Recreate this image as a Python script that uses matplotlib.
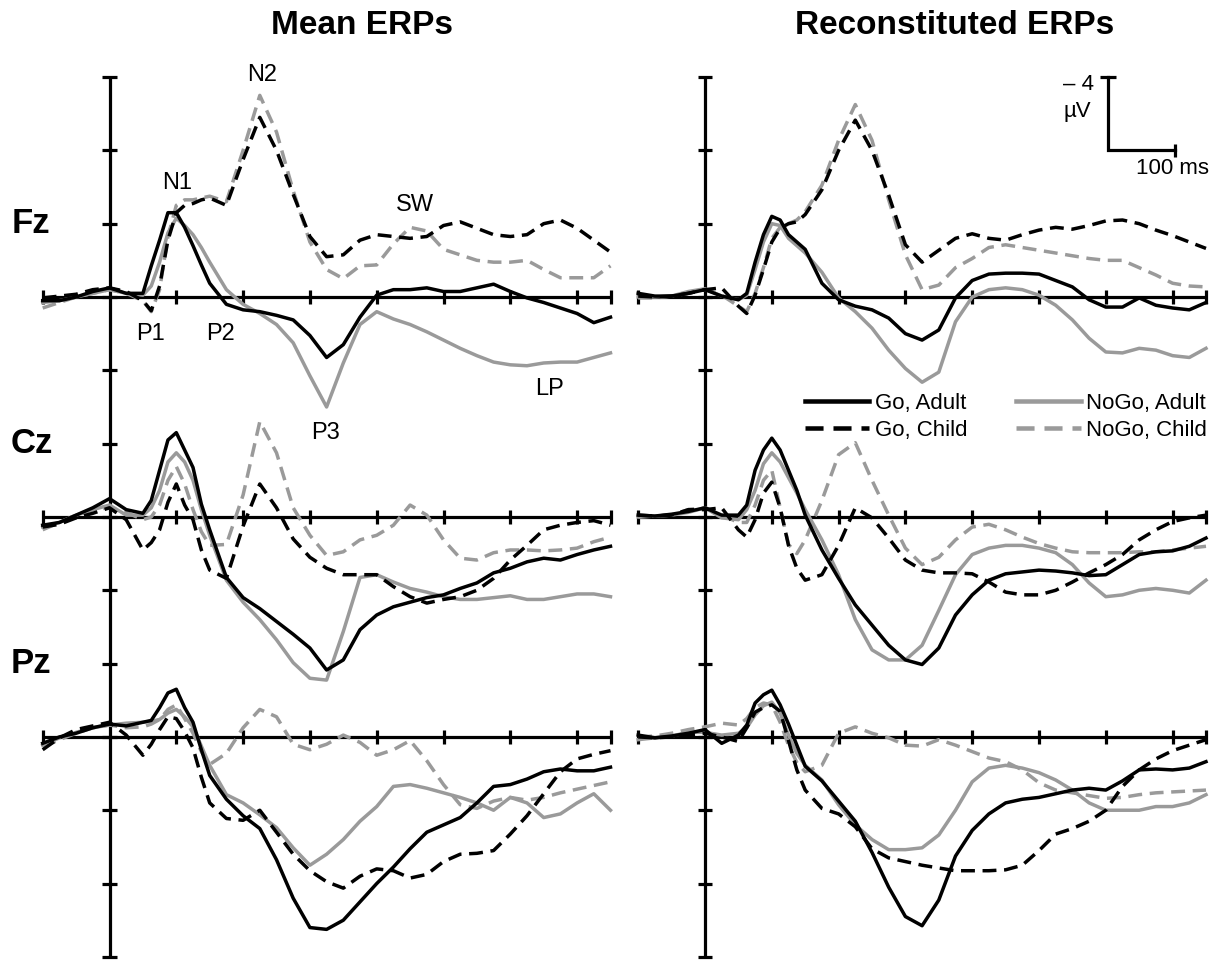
import numpy as np
import matplotlib
matplotlib.use("Agg")
import matplotlib.pyplot as plt
from matplotlib.lines import Line2D

plt.rcParams['font.family'] = ['Liberation Sans Narrow', 'Liberation Sans', 'DejaVu Sans']

# sample times (ms after stimulus onset), denser around N1
times = [-100, -75, -50, -25, 0, 25, 50, 62.5, 75, 87.5, 100, 112.5, 125, 137.5, 150,
         175, 200, 225, 250, 275, 300, 325, 350, 375, 400, 425, 450, 475, 500, 525,
         550, 575, 600, 625, 650, 675, 700, 725, 750]

# ---- Mean ERPs (microvolts) ----
mean_fz_go_adult = [0.2, 0.2, 0.0, -0.3, -0.5, -0.2, -0.2,
                    -1.7, -3.1, -4.6, -4.6, -3.8, -2.8, -1.75, -0.75,
                    0.4, 0.7, 0.8, 1.0, 1.25, 2.1, 3.3, 2.6, 1.1, -0.1, -0.4, -0.4, -0.5, -0.3,
                    -0.3, -0.5, -0.7, -0.3, 0.05, 0.3, 0.6, 0.9, 1.4, 1.1]
mean_fz_nogo_adult = [0.3, 0.2, 0.0, -0.2, -0.4, -0.2, -0.1,
                      -0.6, -1.9, -3.5, -4.3, -3.9, -3.4, -2.7, -1.9,
                      -0.4, 0.4, 0.9, 1.5, 2.5, 4.3, 6.0, 3.6, 1.5, 0.8, 1.2, 1.5, 1.9, 2.35,
                      2.8, 3.2, 3.55, 3.7, 3.75, 3.6, 3.55, 3.55, 3.3, 3.05]
mean_fz_go_child = [0.05, -0.05, -0.15, -0.4, -0.5, -0.3, 0.2,
                    0.75, -0.6, -3.1, -4.6, -5.0, -5.1, -5.3, -5.4,
                    -5.0, -7.5, -9.8, -8.0, -5.6, -3.3, -2.2, -2.3, -3.1, -3.4, -3.3, -3.2, -3.3, -3.9,
                    -4.1, -3.75, -3.4, -3.3, -3.4, -4.0, -4.2, -3.75, -3.1, -2.45]
mean_fz_nogo_child = [0.6, 0.3, 0.0, -0.2, -0.4, -0.2, 0.2,
                      0.8, -0.4, -3.3, -5.0, -5.3, -5.3, -5.4, -5.5,
                      -5.2, -8.0, -11.0, -9.0, -5.8, -3.0, -1.5, -1.0, -1.7, -1.75, -2.9, -3.8, -3.6, -2.6,
                      -2.3, -2.0, -1.9, -1.9, -2.0, -1.5, -1.05, -1.05, -1.05, -1.7]

mean_cz_go_adult = [0.45, 0.3, -0.1, -0.5, -1.0, -0.4, -0.2,
                    -0.9, -2.55, -4.2, -4.6, -3.65, -2.7, -0.7, 0.7,
                    3.3, 4.4, 5.0, 5.7, 6.4, 7.15, 8.35, 7.8, 6.15, 5.35, 4.9, 4.65, 4.4, 4.25,
                    3.9, 3.6, 3.05, 2.8, 2.45, 2.25, 2.35, 2.05, 1.8, 1.6]
mean_cz_nogo_adult = [0.55, 0.3, -0.1, -0.4, -0.65, -0.1, -0.1,
                      -0.5, -1.45, -3.0, -3.5, -3.0, -2.0, -0.4, 1.0,
                      3.45, 4.65, 5.6, 6.7, 7.95, 8.8, 8.9, 6.25, 3.3, 3.15, 3.55, 3.9, 4.1, 4.35,
                      4.5, 4.5, 4.4, 4.3, 4.5, 4.5, 4.35, 4.2, 4.2, 4.35]
mean_cz_go_child = [0.55, 0.4, 0.05, -0.2, -0.5, 0.15, 1.8,
                    1.4, 0.7, -0.8, -1.8, -0.65, 0.15, 1.8, 2.9,
                    3.35, 0.5, -1.8, -0.5, 1.2, 2.2, 2.8, 3.15, 3.15, 3.15, 3.8, 4.35, 4.7, 4.5,
                    4.35, 4.0, 3.35, 2.35, 1.55, 0.7, 0.45, 0.3, 0.2, 0.45]
mean_cz_nogo_child = [0.7, 0.3, -0.1, -0.4, -0.5, -0.25, 0.15,
                      0.0, -0.65, -2.0, -2.75, -1.8, -0.4, 0.8, 1.55,
                      1.5, -1.2, -5.2, -3.5, -0.5, 1.0, 2.1, 1.9, 1.25, 1.0, 0.45, -0.65, -0.1, 1.25,
                      2.25, 2.35, 1.95, 1.8, 1.8, 1.85, 1.8, 1.7, 1.35, 1.1]

mean_pz_go_adult = [0.35, 0.0, -0.2, -0.5, -0.7, -0.6, -0.8,
                    -0.9, -1.6, -2.4, -2.6, -1.6, -0.8, 0.7, 2.1,
                    3.4, 4.3, 5.0, 6.7, 8.8, 10.4, 10.5, 10.0, 9.0, 8.0, 7.1, 6.1, 5.2, 4.8,
                    4.4, 3.6, 2.7, 2.6, 2.3, 1.9, 1.75, 1.85, 1.85, 1.65]
mean_pz_nogo_adult = [0.45, 0.05, -0.25, -0.5, -0.65, -0.75, -0.8,
                      -0.85, -0.95, -1.3, -1.5, -1.1, -0.55, 0.5, 1.55,
                      3.15, 3.6, 4.25, 4.95, 6.05, 7.0, 6.4, 5.6, 4.6, 3.8, 2.7, 2.6, 2.8, 3.05,
                      3.3, 3.6, 4.0, 3.3, 3.6, 4.4, 4.2, 3.6, 3.1, 4.0]
mean_pz_go_child = [0.7, 0.05, -0.4, -0.6, -0.8, -0.1, 1.0,
                    0.4, -0.4, -1.1, -1.0, -0.3, 0.6, 2.2, 3.6,
                    4.45, 4.55, 4.0, 5.2, 6.4, 7.3, 7.9, 8.25, 7.6, 7.2, 7.3, 7.7, 7.5, 6.8,
                    6.4, 6.35, 6.2, 5.3, 4.3, 3.1, 1.9, 1.2, 0.95, 0.75]
mean_pz_nogo_child = [0.55, 0.15, -0.2, -0.5, -0.65, -0.5, -0.55,
                      -0.7, -0.95, -1.5, -1.75, -1.0, -0.2, 0.8, 1.5,
                      0.9, -0.5, -1.5, -1.1, 0.4, 0.7, 0.4, -0.1, 0.3, 1.0, 0.7, 0.2, 1.3, 2.6,
                      3.7, 3.9, 3.5, 3.3, 3.45, 3.3, 3.05, 2.85, 2.65, 2.45]

# ---- Reconstituted ERPs (microvolts) ----
recon_fz_go_adult = [-0.2, -0.05, -0.05, -0.2, -0.4, -0.05, 0.15,
                     -0.2, -1.9, -3.4, -4.4, -4.2, -3.4, -3.0, -2.6,
                     -0.75, 0.15, 0.5, 0.7, 1.15, 2.0, 2.35, 1.8, 0.05, -0.9, -1.25, -1.3, -1.3, -1.25,
                     -0.9, -0.55, 0.15, 0.55, 0.55, 0.05, 0.45, 0.6, 0.7, 0.3]
recon_fz_nogo_adult = [0.0, 0.0, -0.05, -0.3, -0.45, -0.05, 0.15,
                       -0.1, -1.5, -3.0, -4.0, -3.9, -3.2, -2.8, -2.4,
                       -1.35, 0.05, 0.8, 1.7, 2.9, 3.9, 4.65, 4.1, 1.35, 0.0, -0.4, -0.5, -0.4, -0.1,
                       0.45, 1.25, 2.25, 3.0, 3.05, 2.8, 2.9, 3.2, 3.3, 2.8]
recon_fz_go_child = [-0.05, 0.0, -0.05, -0.2, -0.4, -0.5, 0.5,
                     0.9, -0.1, -1.5, -3.0, -3.75, -4.0, -4.1, -4.5,
                     -5.85, -8.0, -9.65, -8.0, -5.55, -2.85, -1.9, -2.55, -3.2, -3.45, -3.2, -3.1, -3.4, -3.65,
                     -3.8, -3.7, -3.9, -4.15, -4.2, -4.0, -3.65, -3.35, -3.0, -2.65]
recon_fz_nogo_child = [0.05, 0.05, -0.05, -0.2, -0.4, -0.1, 0.5,
                       0.8, -0.2, -1.6, -3.2, -3.8, -4.0, -4.2, -4.65,
                       -6.1, -8.55, -10.5, -8.55, -5.3, -2.3, -0.4, -0.65, -1.6, -2.1, -2.7, -2.85, -2.7, -2.55,
                       -2.4, -2.25, -2.1, -2.0, -2.0, -1.6, -1.2, -0.75, -0.6, -0.55]

recon_cz_go_adult = [-0.1, -0.05, -0.15, -0.3, -0.5, -0.1, -0.1,
                     -0.65, -2.55, -3.65, -4.3, -3.65, -2.55, -1.45, -0.1,
                     1.8, 3.35, 4.8, 5.9, 7.0, 7.8, 8.05, 7.15, 5.35, 4.25, 3.45, 3.1, 3.0, 2.9,
                     2.95, 3.05, 3.2, 3.15, 2.6, 2.05, 1.9, 1.85, 1.6, 1.15]
recon_cz_nogo_adult = [0.0, -0.05, -0.1, -0.25, -0.5, 0.05, 0.15,
                       -0.4, -1.45, -2.9, -3.5, -3.0, -2.15, -1.3, -0.4,
                       1.25, 3.15, 5.6, 7.25, 7.8, 7.8, 7.0, 5.1, 3.15, 2.05, 1.7, 1.55, 1.55, 1.7,
                       1.95, 2.6, 3.6, 4.35, 4.25, 4.0, 3.9, 4.0, 4.15, 3.45]
recon_cz_go_child = [-0.1, -0.05, -0.1, -0.4, -0.4, -0.5, 0.7,
                     1.1, 0.15, -1.3, -1.9, -0.5, 1.55, 2.8, 3.45,
                     3.15, 1.55, -0.5, 0.05, 1.15, 2.35, 2.9, 3.05, 3.05, 3.1, 3.55, 4.1, 4.25, 4.25,
                     4.0, 3.55, 3.05, 2.6, 2.05, 1.25, 0.7, 0.25, 0.05, -0.1]
recon_cz_nogo_child = [0.0, -0.05, -0.1, -0.4, -0.5, -0.1, 0.3,
                       0.3, -0.65, -2.0, -2.55, -0.5, 1.5, 2.0, 1.25,
                       -0.9, -3.4, -4.05, -2.0, -0.1, 1.7, 2.6, 2.2, 1.25, 0.55, 0.4, 0.7, 1.1, 1.45,
                       1.7, 1.9, 1.95, 1.95, 1.95, 1.9, 1.9, 1.8, 1.7, 1.6]

recon_pz_go_adult = [-0.1, 0.05, -0.05, -0.2, -0.4, 0.35, -0.1,
                     -0.65, -1.85, -2.3, -2.55, -1.75, -0.7, 0.45, 1.6,
                     2.4, 3.5, 4.6, 6.3, 8.2, 9.8, 10.3, 8.9, 6.5, 5.1, 4.2, 3.6, 3.4, 3.3,
                     3.1, 2.9, 2.8, 2.9, 2.4, 1.8, 1.75, 1.8, 1.7, 1.35]
recon_pz_nogo_adult = [0.15, 0.05, -0.05, -0.25, -0.25, -0.1, -0.2,
                       -0.5, -1.2, -1.7, -1.9, -1.3, -0.1, 0.9, 1.55,
                       2.35, 3.7, 4.8, 5.6, 6.15, 6.15, 6.05, 5.35, 4.0, 2.45, 1.7, 1.55, 1.7, 1.95,
                       2.35, 2.9, 3.6, 4.0, 4.0, 4.0, 3.8, 3.8, 3.6, 3.15]
recon_pz_go_child = [0.0, 0.05, 0.0, -0.1, -0.2, 0.0, 0.25,
                     -0.5, -1.35, -1.6, -1.75, -1.4, 0.2, 1.8, 2.9,
                     3.9, 4.2, 4.9, 6.1, 6.6, 6.8, 7.0, 7.15, 7.3, 7.3, 7.3, 7.25, 7.0, 6.2,
                     5.3, 5.0, 4.6, 4.0, 2.7, 1.8, 1.2, 0.75, 0.45, 0.15]
recon_pz_nogo_child = [0.0, -0.05, -0.2, -0.4, -0.55, -0.75, -0.65,
                       -1.0, -1.6, -1.85, -1.75, -0.8, 0.45, 1.4, 1.9,
                       1.55, -0.2, -0.55, -0.2, 0.05, 0.45, 0.5, 0.15, 0.45, 0.8, 1.15, 1.35, 1.8, 2.5,
                       2.9, 3.05, 3.2, 3.35, 3.3, 3.15, 3.05, 3.0, 2.95, 2.9]

electrodes = ['Fz', 'Cz', 'Pz']
conditions = ['Go, Adult', 'Go, Child', 'NoGo, Adult', 'NoGo, Child']

mean_erps = {
    'Fz': [mean_fz_go_adult, mean_fz_go_child, mean_fz_nogo_adult, mean_fz_nogo_child],
    'Cz': [mean_cz_go_adult, mean_cz_go_child, mean_cz_nogo_adult, mean_cz_nogo_child],
    'Pz': [mean_pz_go_adult, mean_pz_go_child, mean_pz_nogo_adult, mean_pz_nogo_child],
}
recon_erps = {
    'Fz': [recon_fz_go_adult, recon_fz_go_child, recon_fz_nogo_adult, recon_fz_nogo_child],
    'Cz': [recon_cz_go_adult, recon_cz_go_child, recon_cz_nogo_adult, recon_cz_nogo_child],
    'Pz': [recon_pz_go_adult, recon_pz_go_child, recon_pz_nogo_adult, recon_pz_nogo_child],
}

# component labels: (text, time ms, microvolts relative to Fz baseline)
components = [('N1', 101, -6.2), ('N2', 228, -12.1), ('SW', 457, -5.0), ('P1', 62, 2.0),
              ('P2', 166, 2.0), ('P3', 324, 7.4), ('LP', 659, 5.0)]

GREY = '#9a9a9a'
styles = {
    'Go, Adult': dict(color='black', dashes=None),
    'Go, Child': dict(color='black', dashes=(4, 2.2)),
    'NoGo, Adult': dict(color=GREY, dashes=None),
    'NoGo, Child': dict(color=GREY, dashes=(4, 2.2)),
}
draw_order = ['NoGo, Child', 'NoGo, Adult', 'Go, Child', 'Go, Adult']

# layout in pixels
W, H = 1228, 960
PX_MS = 0.668     # pixels per ms
PX_UV = 18.33     # pixels per microvolt
FZ_ROW = 297      # pixel row of the Fz baseline
T_LIM = (-110, 760)
V_LIM = (-13, 36.2)
SPACING = 12      # microvolts between electrode baselines
LW_AXIS = 2.3
LW_WAVE = 2.5

fig = plt.figure(figsize=(W / 100, H / 100), dpi=100)


def add_panel(x_zero):
    left = x_zero + T_LIM[0] * PX_MS
    width = (T_LIM[1] - T_LIM[0]) * PX_MS
    top = FZ_ROW + V_LIM[0] * PX_UV
    height = (V_LIM[1] - V_LIM[0]) * PX_UV
    ax = fig.add_axes([left / W, 1 - (top + height) / H, width / W, height / H])
    ax.set_xlim(*T_LIM)
    ax.set_ylim(V_LIM[1], V_LIM[0])   # negative up
    ax.axis('off')
    return ax


def draw_frame(ax):
    kw = dict(color='black', lw=LW_AXIS, zorder=2)
    ax.vlines(0, -12, 36, **kw)
    ax.hlines(np.arange(-12, 37, 4), -11, 11, **kw)
    ticks = [-100, 100, 200, 300, 400, 500, 600, 700, 750]
    for k in range(len(electrodes)):
        off = k * SPACING
        ax.hlines(off, -100, 750, **kw)
        ax.vlines(ticks, off - 0.36, off + 0.36, **kw)


def draw_waves(ax, erps):
    for k, name in enumerate(electrodes):
        off = k * SPACING
        for cond in draw_order:
            vals = np.array(erps[name][conditions.index(cond)]) + off
            st = styles[cond]
            line, = ax.plot(times, vals, color=st['color'], lw=LW_WAVE, zorder=3,
                            solid_joinstyle='round', dash_capstyle='butt')
            if st['dashes']:
                line.set_dashes(st['dashes'])


ax_mean = add_panel(109.5)
ax_recon = add_panel(705)

for ax, erps in [(ax_mean, mean_erps), (ax_recon, recon_erps)]:
    draw_frame(ax)
    draw_waves(ax, erps)

fig.text(362 / W, 1 - 25 / H, 'Mean ERPs', fontsize=24, fontweight='bold', ha='center', va='center')
fig.text(955 / W, 1 - 25 / H, 'Reconstituted ERPs', fontsize=24, fontweight='bold', ha='center', va='center')

for k, name in enumerate(electrodes):
    ax_mean.text(-117, k * SPACING - 4, name, fontsize=25, fontweight='bold',
                 ha='center', va='center')

for txt, t, v in components:
    ax_mean.text(t, v, txt, fontsize=17, ha='center', va='center')

# scale bar: 4 microvolts by 100 ms
sb = dict(color='black', lw=LW_AXIS, zorder=2)
ax_recon.plot([603, 603, 703], [-12, -8, -8], solid_joinstyle='miter', **sb)
ax_recon.hlines(-12, 591, 615, **sb)
ax_recon.vlines(703, -8.36, -7.64, **sb)
ax_recon.text(583, -11.6, '\u2013 4', fontsize=16, ha='right', va='center')
ax_recon.text(578, -10.1, '\u00b5V', fontsize=16, ha='right', va='center')
ax_recon.text(700, -7.0, '100 ms', fontsize=16, ha='center', va='center')

handles = []
for cond in conditions:
    st = styles[cond]
    h = Line2D([], [], color=st['color'], lw=LW_WAVE * 1.3)
    if st['dashes']:
        h.set_dashes(st['dashes'])
    handles.append(h)
fig.legend(handles, conditions, loc='upper left', bbox_to_anchor=(805 / W, 1 - 393 / H),
           ncol=2, frameon=False, fontsize=16, handlelength=2.9, handletextpad=0.25,
           columnspacing=2.2, labelspacing=0.28, borderpad=0, borderaxespad=0)

fig.savefig('out.png', dpi=100)
